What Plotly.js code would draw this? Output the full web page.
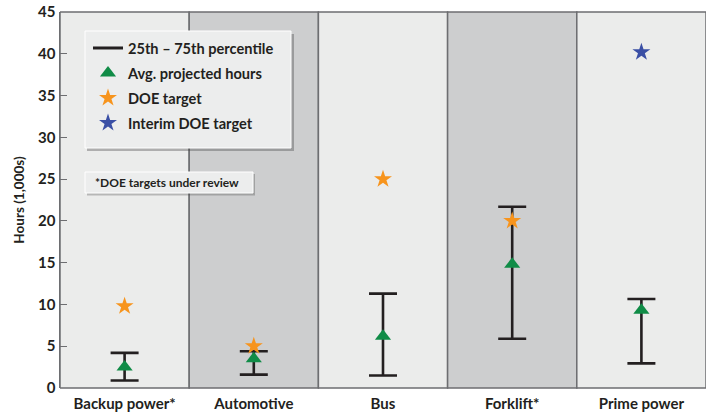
<!DOCTYPE html>
<html>
<head>
<meta charset="utf-8">
<script src="https://cdn.plot.ly/plotly-3.0.1.min.js"></script>
<style>html,body{margin:0;padding:0;background:#fff;}#chart{width:709px;height:412px;}</style>
</head>
<body>
<div id="chart"></div>
<script>
// Data (hours, thousands)
const categories = ['Backup power*', 'Automotive', 'Bus', 'Forklift*', 'Prime power'];
const p25 = [0.9, 1.6, 1.5, 5.9, 2.95];
const p75 = [4.2, 4.4, 11.3, 21.7, 10.65];
const avgHours = [2.5, 3.5, 6.2, 14.8, 9.3];
const doeTarget = [9.8, 5.0, 25.0, 20.0, null];
const interimTarget = [null, null, null, null, 40.2];
const yTicks = [0, 5, 10, 15, 20, 25, 30, 35, 40, 45];

const idx = categories.map((c, i) => i);
const FONT = 'Lato, "Open Sans", sans-serif';
const DARK = '#231f20';
const BORDER = '#6d6e71';

const traces = [
  { // whiskers (25th-75th)
    x: idx, y: p25, type: 'scatter', mode: 'markers',
    marker: {size: 1, opacity: 0}, showlegend: false, hoverinfo: 'skip',
    error_y: {type: 'data', symmetric: false,
      array: p75.map((v, i) => v - p25[i]), arrayminus: p25.map(() => 0),
      color: DARK, thickness: 2.6, width: 14}
  },
  { // legend entry for whiskers
    x: [null], y: [null], type: 'scatter', mode: 'lines', name: '25th \u2013 75th percentile',
    line: {color: DARK, width: 3}, legendgroup: 'a'
  },
  {
    x: idx, y: avgHours, type: 'scatter', mode: 'markers', name: 'Avg. projected hours',
    marker: {symbol: 'triangle-up', size: 14, color: '#108c47'}, legendgroup: 'b'
  },
  {
    x: idx, y: doeTarget, type: 'scatter', mode: 'markers', name: 'DOE target',
    marker: {symbol: 'star', size: 13.5, color: '#f7941d'}, legendgroup: 'c'
  },
  {
    x: idx, y: interimTarget, type: 'scatter', mode: 'markers', name: 'Interim DOE target',
    marker: {symbol: 'star', size: 13.5, color: '#3a4fa5'}, legendgroup: 'd'
  }
];

const L = 60, R = 706, T = 12, B = 388;
const px = v => (v - L) / (R - L);
const py = v => (B - v) / (B - T);

const shapes = idx.map(i => ({
  type: 'rect', xref: 'x', yref: 'paper', x0: i - 0.5, x1: i + 0.5, y0: 0, y1: 1,
  fillcolor: i % 2 === 1 ? '#cdcecf' : '#ebeceb', line: {color: BORDER, width: 1.5}, layer: 'below'
}));
// legend box shadow + box
shapes.push({type: 'rect', xref: 'paper', yref: 'paper', x0: px(87), x1: px(294), y0: py(151), y1: py(34),
  fillcolor: 'rgba(60,60,60,0.35)', line: {width: 0}, layer: 'above'});
shapes.push({type: 'rect', xref: 'paper', yref: 'paper', x0: px(85), x1: px(291), y0: py(148), y1: py(31),
  fillcolor: '#eceded', line: {color: '#ffffff', width: 1}, layer: 'above'});
// note box shadow + box
shapes.push({type: 'rect', xref: 'paper', yref: 'paper', x0: px(87), x1: px(255), y0: py(195.5), y1: py(174),
  fillcolor: 'rgba(60,60,60,0.3)', line: {width: 0}, layer: 'above'});
shapes.push({type: 'rect', xref: 'paper', yref: 'paper', x0: px(85), x1: px(253), y0: py(193), y1: py(172),
  fillcolor: '#eceded', line: {color: '#ffffff', width: 1}, layer: 'above'});

const layout = {
  width: 709, height: 412,
  margin: {l: L, r: 709 - R, t: T, b: 412 - B, pad: 0},
  paper_bgcolor: '#ffffff', plot_bgcolor: '#ebeceb',
  font: {family: FONT, color: DARK, size: 13, weight: 'bold'},
  showlegend: true,
  legend: {
    x: px(88), y: py(32), xanchor: 'left', yanchor: 'top',
    bgcolor: 'rgba(0,0,0,0)', borderwidth: 0,
    font: {family: FONT, size: 14.6, color: DARK, weight: 'bold'},
    traceorder: 'grouped', tracegroupgap: 3
  },
  xaxis: {
    range: [-0.5, 4.5], tickvals: idx, ticktext: categories, showgrid: false, zeroline: false,
    showline: false, ticks: '', fixedrange: true, ticklabelstandoff: 5,
    tickfont: {family: FONT, size: 15, color: DARK, weight: 'bold'}
  },
  yaxis: {
    range: [0, 45], tickvals: yTicks, showgrid: false, zeroline: false,
    showline: true, linecolor: BORDER, linewidth: 1.5, ticks: 'inside', ticklen: 7,
    tickcolor: BORDER, tickwidth: 1.2, fixedrange: true,
    tickfont: {family: FONT, size: 15, color: DARK, weight: 'bold'},
    title: {text: 'Hours (1,000s)', font: {family: FONT, size: 13.5, color: DARK, weight: 'bold'}, standoff: 10}
  },
  shapes: shapes,
  annotations: [{
    xref: 'paper', yref: 'paper', x: px(167), y: py(182.5), xanchor: 'center', yanchor: 'middle',
    text: '*DOE targets under review', showarrow: false,
    font: {family: FONT, size: 12, color: DARK, weight: 'bold'}
  }]
};

Plotly.newPlot('chart', traces, layout, {displayModeBar: false, staticPlot: true});
</script>
</body>
</html>
